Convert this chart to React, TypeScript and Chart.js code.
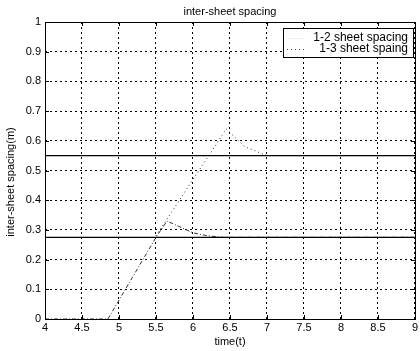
import React, { useEffect, useRef } from "react";
import { Chart, registerables } from "chart.js";

Chart.register(...registerables);

const titleText = "inter-sheet spacing";
const xTitle = "time(t)";
const yTitle = "inter-sheet spacing(m)";

const s12x = [4, 4.85, 5.5, 5.65, 6.0, 6.2, 6.4, 9];
const s12y = [0, 0, 0.275, 0.33, 0.29, 0.28, 0.275, 0.275];
const s13x = [5.5, 6.45, 6.7, 7.0, 9];
const s13y = [0.28, 0.64, 0.58, 0.55, 0.55];
const refLevels = [0.55, 0.275];
const xRange = [4, 9];
const yRange = [0, 1];
const legendLabels = ["1-2 sheet spacing", "1-3 sheet spaing"];

const FONT = "'Liberation Sans', Arial, sans-serif";

export default function App() {
  const ref = useRef<HTMLCanvasElement | null>(null);
  useEffect(() => {
    document.body.style.margin = "0";
    const canvas = ref.current!;
    const framePlugin = {
      id: "frame",
      afterDraw(chart: any) {
        const { ctx, chartArea: a } = chart;
        ctx.save();
        ctx.strokeStyle = "#000";
        ctx.lineWidth = 1;
        ctx.setLineDash([]);
        ctx.strokeRect(Math.round(a.left) + 0.5, Math.round(a.top) + 0.5, Math.round(a.right - a.left), Math.round(a.bottom - a.top));
        const xs = chart.scales.x, ys = chart.scales.y;
        ctx.beginPath();
        xs.ticks.forEach((t: any) => {
          const px = Math.round(xs.getPixelForValue(t.value)) + 0.5;
          ctx.moveTo(px, a.bottom); ctx.lineTo(px, a.bottom - 4);
          ctx.moveTo(px, a.top); ctx.lineTo(px, a.top + 4);
        });
        ys.ticks.forEach((t: any) => {
          const py = Math.round(ys.getPixelForValue(t.value)) + 0.5;
          ctx.moveTo(a.left, py); ctx.lineTo(a.left + 4, py);
          ctx.moveTo(a.right, py); ctx.lineTo(a.right - 4, py);
        });
        ctx.stroke();
        ctx.fillStyle = "#000";
        ctx.font = `11px ${FONT}`;
        ctx.textAlign = "center";
        ctx.textBaseline = "middle";
        ctx.fillText(titleText, (a.left + a.right) / 2, 12);
        ctx.fillText(xTitle, (a.left + a.right) / 2, 342);
        ctx.save();
        ctx.translate(11, 182);
        ctx.rotate(-Math.PI / 2);
        ctx.fillText(yTitle, 0, 0);
        ctx.restore();
        // legend
        const lx = 283, ly = 28, lw = 130, lh = 29;
        ctx.fillStyle = "#fff";
        ctx.fillRect(lx, ly, lw, lh);
        ctx.strokeStyle = "#000";
        ctx.strokeRect(lx + 0.5, ly + 0.5, lw, lh);
        ctx.fillStyle = "#000";
        ctx.font = `12px ${FONT}`;
        ctx.textAlign = "right";
        ctx.fillText(legendLabels[0], 408, 38);
        ctx.fillText(legendLabels[1], 408, 49);
        ctx.strokeStyle = "#eee";
        ctx.beginPath();
        ctx.moveTo(287, 38.5); ctx.lineTo(304, 38.5);
        ctx.stroke();
        ctx.strokeStyle = "#444";
        ctx.setLineDash([1, 3]);
        ctx.beginPath();
        ctx.moveTo(287, 49.5); ctx.lineTo(304, 49.5);
        ctx.stroke();
        ctx.restore();
      },
    };
    const chart = new Chart(canvas, {
      type: "line",
      data: {
        datasets: [
          ...refLevels.map((lv) => ({
            label: "ref",
            data: xRange.map((x) => ({ x, y: lv })),
            borderColor: "#000",
            borderWidth: 1.3,
            pointRadius: 0,
            tension: 0,
          })),
          {
            label: legendLabels[0],
            data: s12x.map((x, i) => ({ x, y: s12y[i] })),
            borderColor: "#333",
            borderWidth: 1,
            borderDash: [4, 2, 1, 2],
            pointRadius: 0,
            tension: 0,
          },
          {
            label: legendLabels[1],
            data: s13x.map((x, i) => ({ x, y: s13y[i] })),
            borderColor: "#333",
            borderWidth: 1,
            borderDash: [1, 3],
            pointRadius: 0,
            tension: 0,
          },
        ],
      },
      options: {
        animation: false,
        responsive: false,
        events: [],
        layout: { padding: { top: 22, right: 2, left: 0, bottom: 0 } },
        plugins: { legend: { display: false }, title: { display: false }, tooltip: { enabled: false } },
        scales: {
          x: {
            type: "linear",
            min: xRange[0],
            max: xRange[1],
            ticks: {
              stepSize: 0.5,
              color: "#000",
              font: { family: FONT, size: 11 },
              padding: 2,
              maxRotation: 0,
              callback: (v: any) => String(Number(v)),
            },
            grid: { color: "#000", lineWidth: 1, drawTicks: false },
            border: { display: false, dash: [2, 3] },
            afterFit: (s: any) => { s.height = 32; },
          },
          y: {
            type: "linear",
            min: yRange[0],
            max: yRange[1],
            ticks: {
              stepSize: 0.1,
              color: "#000",
              font: { family: FONT, size: 11 },
              padding: 4,
              callback: (v: any) => String(Math.round(Number(v) * 10) / 10),
            },
            grid: { color: "#000", lineWidth: 1, drawTicks: false },
            border: { display: false, dash: [2, 3] },
            afterFit: (s: any) => { s.width = 45; },
          },
        },
      },
      plugins: [framePlugin],
    } as any);
    return () => chart.destroy();
  }, []);
  return <canvas ref={ref} width={420} height={351} style={{ display: "block" }} />;
}
